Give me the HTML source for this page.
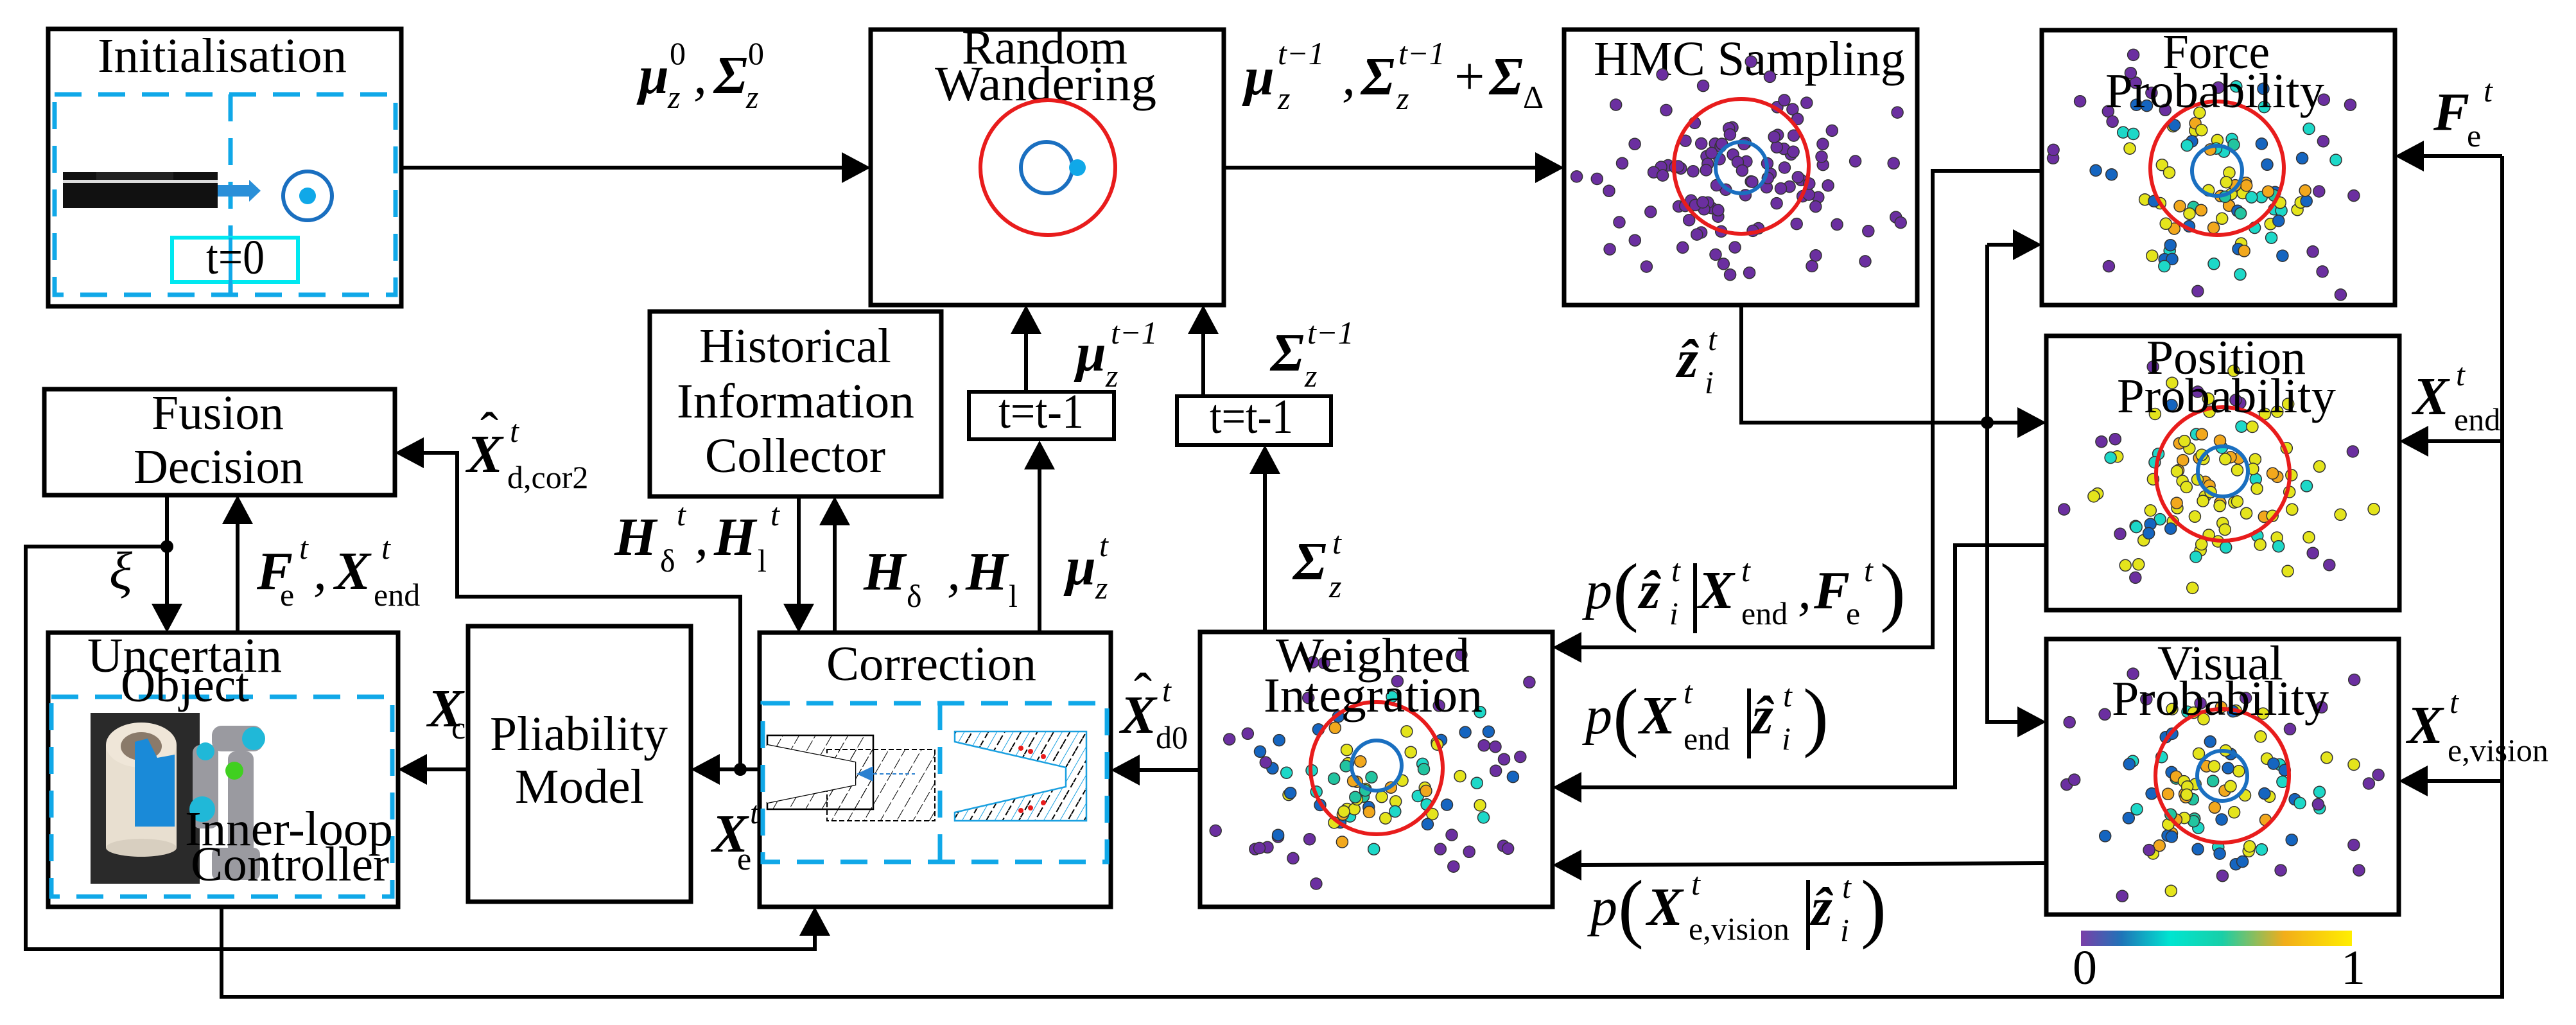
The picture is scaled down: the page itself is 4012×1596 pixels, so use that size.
<!DOCTYPE html>
<html><head><meta charset="utf-8"><style>
html,body{margin:0;padding:0;background:#fff}
svg{display:block;font-family:"Liberation Serif",serif}
.t{font-family:"Liberation Serif",serif;font-size:76px;fill:#000}
.b{font-family:"Liberation Serif",serif;font-style:italic;font-weight:bold;font-size:84px;fill:#000}
.i{font-family:"Liberation Serif",serif;font-style:italic;font-size:84px;fill:#000}
.r{font-family:"Liberation Serif",serif;font-size:84px;fill:#000}
.s{font-family:"Liberation Serif",serif;font-size:50px;fill:#000}
.si{font-family:"Liberation Serif",serif;font-style:italic;font-size:50px;fill:#000}
.par{font-family:"Liberation Serif",serif;font-size:120px;fill:#000;font-weight:normal}
</style></head><body>
<svg id="S" xmlns="http://www.w3.org/2000/svg" width="4012" height="1596" viewBox="0 0 4012 1596" font-family="Liberation Serif, serif">
<defs>
<linearGradient id="cb" x1="0" x2="1" y1="0" y2="0">
<stop offset="0" stop-color="#7a3fa8"/><stop offset="0.15" stop-color="#1f74b8"/><stop offset="0.33" stop-color="#00e5d0"/><stop offset="0.52" stop-color="#18cfa8"/><stop offset="0.75" stop-color="#f2ad1a"/><stop offset="1" stop-color="#ffee00"/>
</linearGradient>
<pattern id="hb" width="22" height="22" patternUnits="userSpaceOnUse" patternTransform="rotate(30)"><line x1="0" y1="0" x2="0" y2="22" stroke="#000" stroke-width="2" stroke-dasharray="10 4"/></pattern>
<pattern id="hc" width="22" height="22" patternUnits="userSpaceOnUse" patternTransform="rotate(30)"><line x1="0" y1="0" x2="0" y2="22" stroke="#1aa0e0" stroke-width="2"/><line x1="11" y1="0" x2="11" y2="22" stroke="#000" stroke-width="2" stroke-dasharray="8 5"/></pattern>
</defs>

<g fill="none" stroke="#000" stroke-width="7">
<rect x="75" y="45" width="550" height="432"/>
<rect x="1356" y="46" width="550" height="429"/>
<rect x="2436" y="46" width="550" height="429"/>
<rect x="3180" y="47" width="550" height="428"/>
<rect x="3187" y="523" width="550" height="427"/>
<rect x="3187" y="995" width="549" height="429"/>
<rect x="1869" y="984" width="549" height="428"/>
<rect x="1183" y="985" width="547" height="427"/>
<rect x="729" y="975" width="347" height="429"/>
<rect x="75" y="985" width="545" height="427"/>
<rect x="69" y="606" width="546" height="165"/>
<rect x="1012" y="485" width="454" height="288"/>
<rect x="1509" y="610" width="226" height="74" stroke-width="6"/>
<rect x="1833" y="617" width="240" height="76" stroke-width="6"/>
</g>

<g fill="none" stroke="#000" stroke-width="6">
<path d="M625 261H1312"/>
<path d="M1906 261H2392"/>
<path d="M2712 475V658H3143"/>
<path d="M3095 381V1124H3143M3095 381H3136"/>
<path d="M3180 266H3010V1008H2462"/>
<path d="M3187 849H3045V1226H2462"/>
<path d="M3187 1344L2462 1347"/>
<path d="M3897 243V1552H345V1412M3897 243H3774M3897 687H3781M3897 1216H3780"/>
<path d="M1970 984V737M1874 617V519"/>
<path d="M1619 985V730M1598 610V519"/>
<path d="M1244 773V941M1300 985V817"/>
<path d="M1869 1199H1774"/>
<path d="M1183 1198H1120"/>
<path d="M1153 1198V929H712V705H659"/>
<path d="M729 1198H664"/>
<path d="M260 771V941M260 851H40V1478H1269V1456"/>
<path d="M370 985V815"/>
</g>
<g fill="#000">
<polygon points="1356,261 1311,237 1311,285"/>
<polygon points="2436,261 2391,237 2391,285"/>
<polygon points="3187,658 3142,634 3142,682"/>
<polygon points="3180,381 3135,357 3135,405"/>
<polygon points="3187,1124 3142,1100 3142,1148"/>
<polygon points="2418,1008 2463,984 2463,1032"/>
<polygon points="2418,1226 2463,1202 2463,1250"/>
<polygon points="2418,1347 2463,1323 2463,1371"/>
<polygon points="3730,243 3775,219 3775,267"/>
<polygon points="3737,687 3782,663 3782,711"/>
<polygon points="3736,1216 3781,1192 3781,1240"/>
<polygon points="1970,693 1946,738 1994,738"/>
<polygon points="1874,475 1850,520 1898,520"/>
<polygon points="1619,686 1595,731 1643,731"/>
<polygon points="1598,475 1574,520 1622,520"/>
<polygon points="1244,985 1220,940 1268,940"/>
<polygon points="1300,773 1276,818 1324,818"/>
<polygon points="1730,1199 1775,1175 1775,1223"/>
<polygon points="1076,1198 1121,1174 1121,1222"/>
<polygon points="615,705 660,681 660,729"/>
<polygon points="620,1198 665,1174 665,1222"/>
<polygon points="260,985 236,940 284,940"/>
<polygon points="1269,1412 1245,1457 1293,1457"/>
<polygon points="370,771 346,816 394,816"/>
<circle cx="3095" cy="658" r="10"/>
<circle cx="1153" cy="1198" r="10"/>
<circle cx="260" cy="851" r="10"/>
</g>

<g fill="none" stroke="#10a8e8" stroke-width="7" stroke-dasharray="42 26">
<rect x="85" y="147" width="531" height="312"/>
<path d="M359 147V459"/>
</g>
<rect x="98" y="268" width="241" height="56" fill="#111"/>
<rect x="98" y="280" width="241" height="5" fill="#ddd"/>
<rect x="150" y="268" width="120" height="12" fill="#222"/>
<polygon points="339,288 388,288 388,280 406,297 388,314 388,306 339,306" fill="#2a8fd8"/>
<circle cx="479" cy="305" r="38" fill="none" stroke="#1a6fc0" stroke-width="6"/>
<circle cx="479" cy="305" r="13" fill="#10a8e8"/>
<rect x="268" y="370" width="196" height="69" fill="#fff" stroke="#00e8f0" stroke-width="6"/>
<path d="M359 370V459" stroke="#10a8e8" stroke-width="6"/>
<text class="t" x="321" y="426" textLength="91" lengthAdjust="spacingAndGlyphs">t=0</text>

<text class="t" x="152" y="112" textLength="388" lengthAdjust="spacingAndGlyphs">Initialisation</text>
<text class="t" x="1498" y="99" textLength="258" lengthAdjust="spacingAndGlyphs">Random</text>
<text class="t" x="1456" y="156" textLength="345" lengthAdjust="spacingAndGlyphs">Wandering</text>
<text class="t" x="2482" y="117" textLength="485" lengthAdjust="spacingAndGlyphs">HMC Sampling</text>
<text class="t" x="1089" y="564" textLength="299" lengthAdjust="spacingAndGlyphs">Historical</text>
<text class="t" x="1054" y="650" textLength="370" lengthAdjust="spacingAndGlyphs">Information</text>
<text class="t" x="1098" y="735" textLength="281" lengthAdjust="spacingAndGlyphs">Collector</text>
<text class="t" x="236" y="668" textLength="206" lengthAdjust="spacingAndGlyphs">Fusion</text>
<text class="t" x="208" y="752" textLength="265" lengthAdjust="spacingAndGlyphs">Decision</text>
<text class="t" x="1287" y="1059" textLength="327" lengthAdjust="spacingAndGlyphs">Correction</text>
<text class="t" x="763" y="1168" textLength="277" lengthAdjust="spacingAndGlyphs">Pliability</text>
<text class="t" x="802" y="1250" textLength="201" lengthAdjust="spacingAndGlyphs">Model</text>
<text class="t" x="1555" y="666" textLength="133" lengthAdjust="spacingAndGlyphs">t=t-1</text>
<text class="t" x="1884" y="674" textLength="130" lengthAdjust="spacingAndGlyphs">t=t-1</text>

<circle cx="1632" cy="261" r="105" fill="none" stroke="#e81c1c" stroke-width="6"/>
<circle cx="1630" cy="261" r="40" fill="none" stroke="#1a6fc0" stroke-width="6"/>
<circle cx="1678" cy="261" r="13" fill="#10a8e8"/>

<g id="dots"></g>

<g fill="none" stroke-width="6">
<circle cx="2712" cy="259" r="105" stroke="#e81c1c"/><circle cx="2712" cy="261" r="40" stroke="#1a6fc0"/>
<circle cx="3453" cy="262" r="104" stroke="#e81c1c"/><circle cx="3453" cy="266" r="39" stroke="#1a6fc0"/>
<circle cx="3462" cy="738" r="104" stroke="#e81c1c"/><circle cx="3462" cy="734" r="39" stroke="#1a6fc0"/>
<circle cx="3461" cy="1208" r="104" stroke="#e81c1c"/><circle cx="3461" cy="1208" r="39" stroke="#1a6fc0"/>
<circle cx="2144" cy="1196" r="103" stroke="#e81c1c"/><circle cx="2144" cy="1192" r="39" stroke="#1a6fc0"/>
</g>

<text class="t" x="3368" y="106" textLength="167" lengthAdjust="spacingAndGlyphs">Force</text>
<text class="t" x="3279" y="167" textLength="341" lengthAdjust="spacingAndGlyphs">Probability</text>
<text class="t" x="3343" y="582" textLength="248" lengthAdjust="spacingAndGlyphs">Position</text>
<text class="t" x="3297" y="642" textLength="341" lengthAdjust="spacingAndGlyphs">Probability</text>
<text class="t" x="3360" y="1058" textLength="196" lengthAdjust="spacingAndGlyphs">Visual</text>
<text class="t" x="3289" y="1113" textLength="338" lengthAdjust="spacingAndGlyphs">Probability</text>
<text class="t" x="1987" y="1046" textLength="302" lengthAdjust="spacingAndGlyphs">Weighted</text>
<text class="t" x="1968" y="1108" textLength="341" lengthAdjust="spacingAndGlyphs">Integration</text>

<rect x="3241" y="1449" width="422" height="24" fill="url(#cb)"/>
<text class="t" x="3228" y="1532" font-size="80">0</text>
<text class="t" x="3646" y="1532" font-size="80">1</text>

<g fill="none" stroke="#10a8e8" stroke-width="7" stroke-dasharray="42 26">
<rect x="1188" y="1095" width="536" height="247"/>
<path d="M1464 1095V1342"/>
</g>
<path d="M1288 1167H1456V1278H1288Z" fill="url(#hb)" stroke="#000" stroke-width="2" stroke-dasharray="8 4"/>
<path d="M1195 1145H1360V1260H1195V1250L1332 1222V1187L1195 1160Z" fill="url(#hb)" stroke="#000" stroke-width="2.5"/>
<path d="M1195 1160L1332 1187V1222L1195 1250Z" fill="#fff"/>
<polygon points="1334,1205 1360,1193 1360,1217" fill="#2a80d0"/>
<path d="M1360 1205H1425" stroke="#2a80d0" stroke-width="2" stroke-dasharray="6 4"/>
<path d="M1487 1139H1692V1278H1487V1265L1660 1225V1195L1487 1155Z" fill="url(#hc)" stroke="#1aa0e0" stroke-width="2.5"/>
<g fill="#e81c1c"><circle cx="1590" cy="1165" r="4"/><circle cx="1605" cy="1170" r="4"/><circle cx="1625" cy="1178" r="4"/><circle cx="1590" cy="1262" r="4"/><circle cx="1605" cy="1258" r="4"/><circle cx="1625" cy="1250" r="4"/></g>

<rect x="80" y="1085" width="531" height="311" fill="none" stroke="#10a8e8" stroke-width="7" stroke-dasharray="42 26"/>
<rect x="141" y="1110" width="170" height="266" fill="#2a2a2a"/>
<rect x="165" y="1160" width="110" height="160" fill="#e8dfd0"/>
<ellipse cx="220" cy="1160" rx="55" ry="35" fill="#efe6d8"/>
<ellipse cx="220" cy="1162" rx="32" ry="22" fill="#8a7a6a"/>
<ellipse cx="220" cy="1320" rx="55" ry="14" fill="#d8cfc0"/>
<path d="M210 1155L230 1150L245 1180L272 1175L272 1287L210 1287Z" fill="#1a8ad8"/>
<g fill="#9a9aa0">
<rect x="300" y="1160" width="40" height="130" rx="12"/>
<rect x="330" y="1130" width="80" height="40" rx="15"/>
<rect x="355" y="1170" width="40" height="180" rx="12"/>
<rect x="330" y="1320" width="75" height="50" rx="10"/>
</g>
<g fill="#20b8d8"><circle cx="315" cy="1260" r="20"/><circle cx="395" cy="1150" r="18"/><circle cx="320" cy="1170" r="14"/></g>
<circle cx="365" cy="1200" r="14" fill="#40d020"/>
<text class="t" x="136" y="1046" textLength="303" lengthAdjust="spacingAndGlyphs">Uncertain</text>
<text class="t" x="188" y="1092" textLength="200" lengthAdjust="spacingAndGlyphs">Object</text>
<text class="t" x="288" y="1316" textLength="324" lengthAdjust="spacingAndGlyphs">Inner-loop</text>
<text class="t" x="297" y="1371" textLength="309" lengthAdjust="spacingAndGlyphs">Controller</text>

<text class="b" x="995" y="145">μ</text><text class="s" x="1043" y="100">0</text><text class="si" x="1040" y="168">z</text><text class="i" x="1080" y="145">,</text>
<text class="b" x="1112" y="145">Σ</text><text class="s" x="1165" y="100">0</text><text class="si" x="1162" y="168">z</text>

<text class="b" x="1938" y="147">μ</text><text class="si" x="1990" y="100">t−1</text><text class="si" x="1990" y="170">z</text><text class="i" x="2090" y="147">,</text>
<text class="b" x="2120" y="147">Σ</text><text class="si" x="2178" y="100">t−1</text><text class="si" x="2175" y="170">z</text><text class="r" x="2265" y="147">+</text>
<text class="b" x="2320" y="147">Σ</text><text class="s" x="2372" y="168" font-size="30">Δ</text>

<text class="b" x="2612" y="587">ẑ</text><text class="si" x="2660" y="545">t</text><text class="si" x="2655" y="612">i</text>
<text class="b" x="3790" y="202">F</text><text class="s" x="3842" y="228">e</text><text class="si" x="3868" y="158">t</text>
<text class="b" x="3758" y="645">X</text><text class="si" x="3825" y="600">t</text><text class="s" x="3822" y="670">end</text>
<text class="b" x="3749" y="1157">X</text><text class="si" x="3815" y="1110">t</text><text class="s" x="3812" y="1185">e,vision</text>

<text class="i" x="2469" y="947">p</text><text class="par" x="2512" y="960">(</text><text class="b" x="2553" y="947">ẑ</text><text class="si" x="2603" y="905">t</text><text class="si" x="2600" y="972">i</text>
<text class="par" x="2628" y="960">|</text><text class="b" x="2645" y="947">X</text><text class="si" x="2712" y="905">t</text><text class="s" x="2712" y="972">end</text><text class="i" x="2800" y="947">,</text>
<text class="b" x="2825" y="947">F</text><text class="s" x="2875" y="972">e</text><text class="si" x="2903" y="905">t</text><text class="par" x="2928" y="960">)</text>

<text class="i" x="2469" y="1142">p</text><text class="par" x="2512" y="1155">(</text><text class="b" x="2553" y="1142">X</text><text class="si" x="2622" y="1095">t</text><text class="s" x="2622" y="1167">end</text>
<text class="par" x="2712" y="1155">|</text><text class="b" x="2729" y="1142">ẑ</text><text class="si" x="2777" y="1100">t</text><text class="si" x="2775" y="1167">i</text><text class="par" x="2808" y="1155">)</text>

<text class="i" x="2477" y="1440">p</text><text class="par" x="2520" y="1453">(</text><text class="b" x="2565" y="1440">X</text><text class="si" x="2634" y="1393">t</text><text class="s" x="2630" y="1463">e,vision</text>
<text class="par" x="2804" y="1453">|</text><text class="b" x="2821" y="1440">ẑ</text><text class="si" x="2869" y="1398">t</text><text class="si" x="2866" y="1465">i</text><text class="par" x="2898" y="1453">)</text>

<text class="b" x="1979" y="577">Σ</text><text class="si" x="2036" y="535">t−1</text><text class="si" x="2032" y="602">z</text>
<text class="b" x="1676" y="577">μ</text><text class="si" x="1730" y="535">t−1</text><text class="si" x="1722" y="602">z</text>
<text class="b" x="1660" y="910">μ</text><text class="si" x="1712" y="866">t</text><text class="si" x="1706" y="932">z</text>
<text class="b" x="2014" y="902">Σ</text><text class="si" x="2075" y="862">t</text><text class="si" x="2070" y="930">z</text>

<text class="b" x="1345" y="918">H</text><text class="s" x="1412" y="945">δ</text><text class="i" x="1475" y="918">,</text><text class="b" x="1504" y="918">H</text><text class="s" x="1571" y="945">l</text>
<text class="b" x="957" y="864">H</text><text class="s" x="1028" y="890">δ</text><text class="si" x="1054" y="818">t</text><text class="i" x="1082" y="864">,</text><text class="b" x="1112" y="864">H</text><text class="s" x="1180" y="890">l</text><text class="si" x="1200" y="818">t</text>

<text class="i" x="170" y="917">ξ</text>
<text class="b" x="400" y="917">F</text><text class="s" x="436" y="943">e</text><text class="si" x="466" y="870">t</text><text class="i" x="488" y="917">,</text>
<text class="b" x="521" y="917">X</text><text class="si" x="594" y="870">t</text><text class="s" x="582" y="943">end</text>

<text class="b" x="727" y="735">X</text><text class="r" x="748" y="700" font-size="60">ˆ</text><text class="si" x="794" y="688">t</text><text class="s" x="790" y="760">d,cor2</text>
<text class="b" x="666" y="1131">X</text><text class="s" x="703" y="1150">c</text>
<text class="b" x="1109" y="1326">X</text><text class="si" x="1168" y="1282">t</text><text class="s" x="1148" y="1354">e</text>
<text class="b" x="1745" y="1141">X</text><text class="r" x="1766" y="1106" font-size="60">ˆ</text><text class="si" x="1810" y="1092">t</text><text class="s" x="1800" y="1165">d0</text>
</svg>
<script>
(function(){
var seed=12345;function rnd(){seed=(seed*16807)%2147483647;return (seed-1)/2147483646;}
function gauss(){var u=rnd()||1e-6,v=rnd();return Math.sqrt(-2*Math.log(u))*Math.cos(2*Math.PI*v);}
var P="#6b2fa0",B="#1565c0",C="#1dd8c8",G="#22c4a0",O="#f2a81d",Y="#e4e41c";
var g=document.getElementById('dots');var ns="http://www.w3.org/2000/svg";
function grp(cx,cy,x0,y0,x1,y1,n,mode){
 for(var k=0;k<n;k++){
  var x=cx+gauss()*110,y=cy+gauss()*85;
  if(x<x0+15||x>x1-15||y<y0+25||y>y1-15){k--;continue;}
  var d=Math.sqrt(Math.pow((x-cx)/110,2)+Math.pow((y-cy)/85,2))+ (rnd()-0.5)*0.8;
  var col=P;
  if(mode==1){ if(d<0.7) col=[Y,Y,O,G][Math.floor(rnd()*4)]; else if(d<1.2) col=[Y,O,C,B][Math.floor(rnd()*4)]; else if(d<1.7) col=[B,C,B,Y][Math.floor(rnd()*4)]; else col=P; }
  if(mode==2){ if(d<0.7) col=[Y,Y,Y,O][Math.floor(rnd()*4)]; else if(d<1.2) col=[Y,O,C,Y][Math.floor(rnd()*4)]; else if(d<1.7) col=[Y,C,B,Y][Math.floor(rnd()*4)]; else col=[P,Y][Math.floor(rnd()*2)]; }
  var c=document.createElementNS(ns,'circle');c.setAttribute('cx',x.toFixed(1));c.setAttribute('cy',y.toFixed(1));c.setAttribute('r',9);
  c.setAttribute('fill',col);c.setAttribute('stroke','#333');c.setAttribute('stroke-width','1.5');g.appendChild(c);
 }
}
grp(2712,280,2436,46,2986,475,115,0);
grp(3453,290,3180,47,3730,475,105,1);
grp(3462,760,3187,523,3737,950,105,2);
grp(3461,1230,3187,995,3736,1424,100,1);
grp(2144,1210,1869,984,2418,1412,95,1);
})();
</script>
</body></html>
